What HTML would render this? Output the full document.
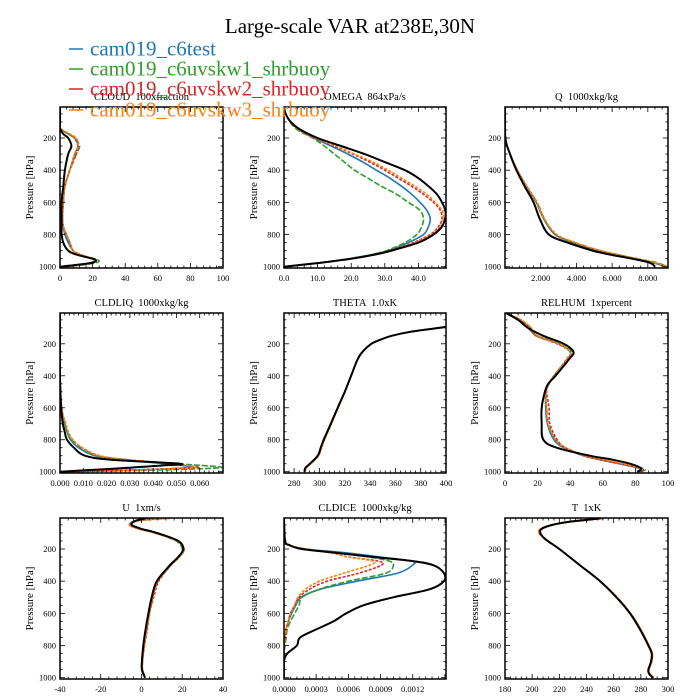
<!DOCTYPE html>
<html><head><meta charset="utf-8"><style>
html,body{margin:0;padding:0;background:#fff;}
svg{display:block;font-family:"Liberation Serif",serif;}
.pre{white-space:pre;}
</style></head><body>
<svg id="fig" width="700" height="700" viewBox="0 0 700 700">
<text x="350" y="33" text-anchor="middle" font-size="21" fill="#000">Large-scale VAR at238E,30N</text>
<g id="panels"></g>
<g id="legend"></g>
</svg>
<script>
const seriesNames = ["cam019_c6test","cam019_c6uvskw1_shrbuoy","cam019_c6uvskw2_shrbuoy","cam019_c6uvskw3_shrbuoy","obs"];
const seriesColors = ["#1f77b4","#2ca02c","#d62728","#ff7f0e","#000000"];

const cloudLev = [10,100,140,175,200,250,300,400,500,600,700,750,800,850,900,925,950,965,980,1000];
const cloudBlack = [0,0,0,2,5,7,5,3,2,1,1,1,1,2,5,10,20,22,17,0];
const cloudBlue = [0,0,0,5,9,11,9,6,3,2,1.5,2,3,5,8,12,20,21,18,4];
const cloudGreen = [0,0,0,5,9,12,10,6,3,2,1.5,2,4,6,8,12,21,24,20,5];
const cloudRed = [0,0,0,6,9,11,10,6,3,2,1.5,2,4,6,8,12,20,21,17,3];
const cloudOrange = [0,0,0,6,10,11,9,6,3,2,1.5,2,4,6,8,13,20,21,17,5];
const cloudTicks = [0,20,40,60,80,100];
const cloudTickLabels = ["0","20","40","60","80","100"];

const omegaLev = [10,50,100,150,200,250,300,350,400,450,500,550,600,650,700,750,800,850,900,925,950,975,1000];
const omegaBlack = [0,0.5,2,5,10,17,24,30,36,40,43,45.5,47,48,48,47,44.5,40,32,27,20,11,0];
const omegaBlue = [0,0.5,2,4.5,9,14,19,23.5,27.5,31.5,35,38,40.5,42.5,43.5,43,41.5,37,31,26,19.5,11,0];
const omegaGreen = [0,0.5,1.8,4,8.5,12,15,18,21,25,29,33.5,37,40.5,41.5,41,39.5,36,30.5,26,19.5,11,0];
const omegaRed = [0,0.5,2,4.5,9,15,20.5,25.5,30,34,38,41.5,44.5,46.5,47,46,43.5,38.5,31.5,26.5,19.5,11,0];
const omegaOrange = [0,0.5,2,4.5,9.5,15.5,21,26.5,31,35,39,42.5,45,47,47.5,46.5,44,39,32,27,20,11,0];
const omegaTicks = [0,10,20,30,40];
const omegaTickLabels = ["0.0","10.0","20.0","30.0","40.0"];

const qLev = [10,200,300,400,500,600,700,800,850,900,925,950,975,1000];
const qBlack = [0,20,280,640,1100,1600,1940,2450,3500,4900,5900,7100,8100,8400];
const qBlue = [0,20,290,680,1180,1750,2150,2800,3800,5200,6200,7300,8300,9000];
const qGreen = [0,20,290,690,1200,1780,2170,2830,3900,5300,6300,7400,8500,9100];
const qRed = [0,20,290,700,1220,1800,2200,2850,3900,5300,6300,7300,8400,9100];
const qOrange = [0,20,290,690,1200,1780,2180,2900,3950,5350,6350,7350,8400,9100];
const qTicks = [2000,4000,6000,8000];
const qTickLabels = ["2.000","4.000","6.000","8.000"];

const liqLev = [10,400,600,700,750,800,850,900,925,950,960,975,990,1000];
const liqBlack = [0,0,0.0005,0.0012,0.002,0.003,0.006,0.0107,0.022,0.0515,0.045,0.03,0.012,0];
const liqBlue = [0,0,0.0006,0.002,0.003,0.0045,0.008,0.015,0.027,0.045,0.052,0.055,0.03,0.003];
const liqGreen = [0,0,0.0006,0.002,0.003,0.005,0.009,0.016,0.028,0.05,0.06,0.069,0.04,0.003];
const liqRed = [0,0,0.0006,0.0025,0.0035,0.0055,0.0095,0.017,0.029,0.048,0.054,0.0587,0.03,0.002];
const liqOrange = [0,0,0.0008,0.0025,0.0035,0.0055,0.0095,0.0165,0.028,0.047,0.054,0.057,0.03,0.002];
const liqTicks = [0,0.01,0.02,0.03,0.04,0.05,0.06];
const liqTickLabels = ["0.000","0.010","0.020","0.030","0.040","0.050","0.060"];

const thetaLev = [93,100,125,150,175,200,250,300,400,500,600,700,800,850,900,950,975,1000];
const thetaBlack = [400,395,372,357,348,341,334,330,325,320,314.4,309,303.4,301,298.6,292.5,289,288];
const thetaBlue = [400,395,372,357,348,341,334,330,325,320,314.6,309.3,303.8,301.4,299,293,289.5,288.5];
const thetaGreen = [400,395,372,357,348,341,334,330,325,320,314.6,309.3,303.8,301.4,299,293,289.5,288.5];
const thetaRed = [400,395,372,357,348,341,334,330,325,320,314.7,309.4,304,301.6,299.2,293.2,289.6,288.5];
const thetaOrange = [400,395,372,357,348,341,334,330,325,320,314.8,309.5,304,301.6,299.3,293.3,289.7,288.6];
const thetaTicks = [280,300,320,340,360,380,400];
const thetaTickLabels = ["280","300","320","340","360","380","400"];

const rhLev = [10,50,100,150,200,250,300,400,450,500,600,700,800,850,900,925,950,975,990,1000];
const rhBlack = [1,8,14,23.5,36,42,39,31,26.5,24.5,22.5,22.5,23.5,31.7,52,66,76.7,83,83,81];
const rhBlue = [1,9,14,20,33,40,38,30,27,25,25,26,30,36,48,58,70,81,84,82];
const rhGreen = [1,9,16,19,33,41,38,30,27,25,25.5,26.5,31,37,49,59,71,83,86,82];
const rhRed = [1,9,15,19,32,40,37.5,30,27,25.5,27,27.5,32,37,49,59,71,82,85,81];
const rhOrange = [1,10,16,20,33,40,38,30,27,25,25.5,26.5,31,37,49,60,72,82,84,81];
const rhTicks = [0,20,40,60,80,100];
const rhTickLabels = ["0","20","40","60","80","100"];

const uLev = [10,25,50,75,100,150,200,250,300,400,500,600,700,800,900,950,1000];
const uBlack = [2,-3,-4.8,0,7.5,18,20.5,18,14,7.5,5,3.4,2,0.9,0.2,0.2,1.7];
const uBlue = [8,-3,-5.5,-1,7,17.5,20.5,18.5,14.5,8,5.5,3.8,2.4,1.2,0.4,0.4,1.8];
const uGreen = [10,-2,-5.5,-1,6.5,17,20,18.5,14.5,8,5.5,3.8,2.5,1.3,0.5,0.5,1.8];
const uRed = [12,-2,-6,-1.5,6.5,17.5,21,18.5,14.5,8.5,6,4,2.8,1.5,0.5,0.5,1.8];
const uOrange = [14,-1,-6,-1.5,6.5,17.5,21,18.5,14.5,8,5.5,4,2.5,1.3,0.5,0.5,1.8];
const uTicks = [-40,-20,0,20,40];
const uTickLabels = ["-40","-20","0","20","40"];

const iceLev = [10,150,175,200,225,250,275,300,350,400,450,500,550,600,650,700,750,800,850,900,1000];
const iceBlack = [0,0.00001,0.00005,0.000165,0.0005,0.00083,0.0012,0.00139,0.00149,0.00149,0.00136,0.00102,0.00074,0.00058,0.00046,0.0003,0.00015,0.00012,0.00003,0,0];
const iceBlue = [0,0.00001,0.00004,0.0002,0.0006,0.0009,0.00119,0.0012,0.00106,0.00068,0.00034,0.00016,0.00011,0.00007,0.00004,0.00002,0.00001,0,0,0,0];
const iceGreen = [0,0.00001,0.00004,0.0002,0.0005,0.0008,0.00098,0.00102,0.00095,0.0006,0.00033,0.00017,0.00014,0.0001,0.00006,0.00003,0.00002,0.00001,0,0,0];
const iceRed = [0,0.00001,0.00004,0.0002,0.00045,0.0006,0.00088,0.00091,0.0007,0.0004,0.00024,0.00014,0.0001,0.00006,0.00004,0.00002,0.00001,0,0,0,0];
const iceOrange = [0,0.00001,0.00004,0.0002,0.00045,0.0006,0.00083,0.0008,0.00056,0.00033,0.0002,0.00013,0.0001,0.00006,0.00004,0.00002,0.00001,0,0,0,0];
const iceTicks = [0,0.0003,0.0006,0.0009,0.0012];
const iceTickLabels = ["0.0000","0.0003","0.0006","0.0009","0.0012"];

const tLev = [10,30,50,75,100,125,150,200,300,400,500,600,700,800,850,900,950,975,1000];
const tBlack = [250,228,215,207,206,208,211.5,220,235,250,262,272,279.4,285.5,288,287.5,285.5,286,289];
const tBlue = [251,229,214.5,206.5,205.5,207.8,211.2,220,235,250,262.2,272.2,279.7,285.8,288.2,287.8,285.8,286.2,289.2];
const tGreen = [251,229,214.5,206.5,205.5,207.8,211.2,220,235,250,262.2,272.2,279.7,285.8,288.2,287.8,285.8,286.2,289.2];
const tRed = [252,229.5,214.3,206.2,205.2,207.6,211,220,235,250,262.4,272.4,279.9,286,288.4,288,286,286.4,289.4];
const tOrange = [253,230,214,206,205,207.5,211,220,235,250,262.5,272.5,280,286,288.5,288,286,286.5,289.5];
const tTicks = [180,200,220,240,260,280,300];
const tTickLabels = ["180","200","220","240","260","280","300"];

const pTicks = [200,400,600,800,1000];
const pTickLabels = ["200","400","600","800","1000"];

const NS = "http://www.w3.org/2000/svg";
const P_MIN = 7.4, P_MAX = 1008;
const colX = [[60,223],[284,446],[505,668]];
const rowY = [[107,268],[313,473],[518,679]];

const panels = [
 {name:"cloud",title:"CLOUD  100xfraction",r:0,c:0,xmin:0,xmax:100,ticks:cloudTicks,labels:cloudTickLabels,lev:cloudLev,s:[cloudBlue,cloudGreen,cloudRed,cloudOrange,cloudBlack]},
 {name:"omega",title:"OMEGA  864xPa/s",r:0,c:1,xmin:0,xmax:48.2,ticks:omegaTicks,labels:omegaTickLabels,lev:omegaLev,s:[omegaBlue,omegaGreen,omegaRed,omegaOrange,omegaBlack]},
 {name:"q",title:"Q  1000xkg/kg",r:0,c:2,xmin:0,xmax:9130,ticks:qTicks,labels:qTickLabels,lev:qLev,s:[qBlue,qGreen,qRed,qOrange,qBlack]},
 {name:"cldliq",title:"CLDLIQ  1000xkg/kg",r:1,c:0,xmin:0,xmax:0.07,ticks:liqTicks,labels:liqTickLabels,lev:liqLev,s:[liqBlue,liqGreen,liqRed,liqOrange,liqBlack]},
 {name:"theta",title:"THETA  1.0xK",r:1,c:1,xmin:272,xmax:400,ticks:thetaTicks,labels:thetaTickLabels,lev:thetaLev,s:[thetaBlue,thetaGreen,thetaRed,thetaOrange,thetaBlack]},
 {name:"relhum",title:"RELHUM  1xpercent",r:1,c:2,xmin:0,xmax:100,ticks:rhTicks,labels:rhTickLabels,lev:rhLev,s:[rhBlue,rhGreen,rhRed,rhOrange,rhBlack]},
 {name:"u",title:"U  1xm/s",r:2,c:0,xmin:-40,xmax:40,ticks:uTicks,labels:uTickLabels,lev:uLev,s:[uBlue,uGreen,uRed,uOrange,uBlack]},
 {name:"cldice",title:"CLDICE  1000xkg/kg",r:2,c:1,xmin:0,xmax:0.00151,ticks:iceTicks,labels:iceTickLabels,lev:iceLev,s:[iceBlue,iceGreen,iceRed,iceOrange,iceBlack]},
 {name:"t",title:"T  1xK",r:2,c:2,xmin:180,xmax:300,ticks:tTicks,labels:tTickLabels,lev:tLev,s:[tBlue,tGreen,tRed,tOrange,tBlack]}
];
const dashes = [null,"6,2","3,1.5","3,1.5",null];
const widths = [1.6,1.6,1.6,1.6,2];

function mk(tag, attrs, parent){const e=document.createElementNS(NS,tag);for(const k in attrs)e.setAttribute(k,attrs[k]);parent.appendChild(e);return e;}
function smoothPath(pts){
  let d="M"+pts[0][0].toFixed(1)+","+pts[0][1].toFixed(1);
  for(let i=0;i<pts.length-1;i++){
    const p0=pts[Math.max(0,i-1)],p1=pts[i],p2=pts[i+1],p3=pts[Math.min(pts.length-1,i+2)];
    const c1=[p1[0]+(p2[0]-p0[0])/6,p1[1]+(p2[1]-p0[1])/6];
    const c2=[p2[0]-(p3[0]-p1[0])/6,p2[1]-(p3[1]-p1[1])/6];
    d+=" C"+c1[0].toFixed(1)+","+c1[1].toFixed(1)+" "+c2[0].toFixed(1)+","+c2[1].toFixed(1)+" "+p2[0].toFixed(1)+","+p2[1].toFixed(1);
  }
  return d;
}

const root = document.getElementById("panels");
panels.forEach(p=>{
  const [x0,x1]=colX[p.c],[y0,y1]=rowY[p.r];
  const xs=v=>x0+(v-p.xmin)/(p.xmax-p.xmin)*(x1-x0);
  const ys=v=>y0+(v-P_MIN)/(P_MAX-P_MIN)*(y1-y0);
  const g=mk("g",{},root);
  
  
  const t=mk("text",{x:(x0+x1)/2,y:y0-7,"text-anchor":"middle","font-size":"10.5","class":"pre"},g);t.textContent=p.title;
  
  
  const clip="clip-"+p.name;
  const cp=mk("clipPath",{id:clip},g);mk("rect",{x:x0,y:y0,width:x1-x0,height:y1-y0},cp);
  const lines=mk("g",{"clip-path":"url(#"+clip+")"},g);
  p.s.forEach((arr,i)=>{
    const pts=arr.map((v,k)=>[xs(v),ys(p.lev[k])]);
    const pl=mk("path",{d:smoothPath(pts),fill:"none",stroke:seriesColors[i],"stroke-width":widths[i],"stroke-linejoin":"round"},lines);
    if(dashes[i])pl.setAttribute("stroke-dasharray",dashes[i]);
    
    
  });
  const tk=mk("g",{stroke:"#000","stroke-width":"0.8"},g);
  const step=p.ticks.length>1?p.ticks[1]-p.ticks[0]:1;
  for(let v=p.ticks[0]-step*5;v<=p.xmax+1e-12;v+=step/5){
    if(v<p.xmin-1e-12)continue;const x=xs(v);
    const major=Math.abs(((v-p.ticks[0])/step)-Math.round((v-p.ticks[0])/step))<1e-6;
    const L=major?5:2.5;
    mk("line",{x1:x,x2:x,y1:y1,y2:y1-L},tk);mk("line",{x1:x,x2:x,y1:y0,y2:y0+L},tk);
  }
  for(let v=50;v<=1000;v+=50){const y=ys(v);const L=(v%200===0)?5:2.5;
    mk("line",{x1:x0,x2:x0+L,y1:y,y2:y},tk);mk("line",{x1:x1,x2:x1-L,y1:y,y2:y},tk);}
  const fr=mk("rect",{x:x0,y:y0,width:x1-x0,height:y1-y0,fill:"none",stroke:"#000","stroke-width":"1.5"},g);
  
  
  p.ticks.forEach((v,i)=>{const tl=mk("text",{x:xs(v),y:y1+13,"text-anchor":"middle","font-size":"8.5"},g);tl.textContent=p.labels[i];
    
    });
  pTicks.forEach((v,i)=>{const tl=mk("text",{x:x0-4,y:ys(v)+3,"text-anchor":"end","font-size":"8.5"},g);tl.textContent=pTickLabels[i];
    
    });
  const yl=mk("text",{x:0,y:0,transform:"translate("+(x0-27)+","+((y0+y1)/2)+") rotate(-90)","text-anchor":"middle","font-size":"11"},g);
  yl.textContent="Pressure [hPa]";
  
  
});

const leg=document.getElementById("legend");
const legY=[49,69,89,110];
for(let i=0;i<4;i++){
  const e=mk("g",{},leg);
  
  
  mk("line",{x1:69,x2:83,y1:legY[i],y2:legY[i],stroke:seriesColors[i],"stroke-width":"1.5"},e);
  const tx=mk("text",{x:90,y:legY[i]+6.5,"font-size":"21",fill:seriesColors[i]},e);tx.textContent=seriesNames[i];
}
</script>
</body></html>
